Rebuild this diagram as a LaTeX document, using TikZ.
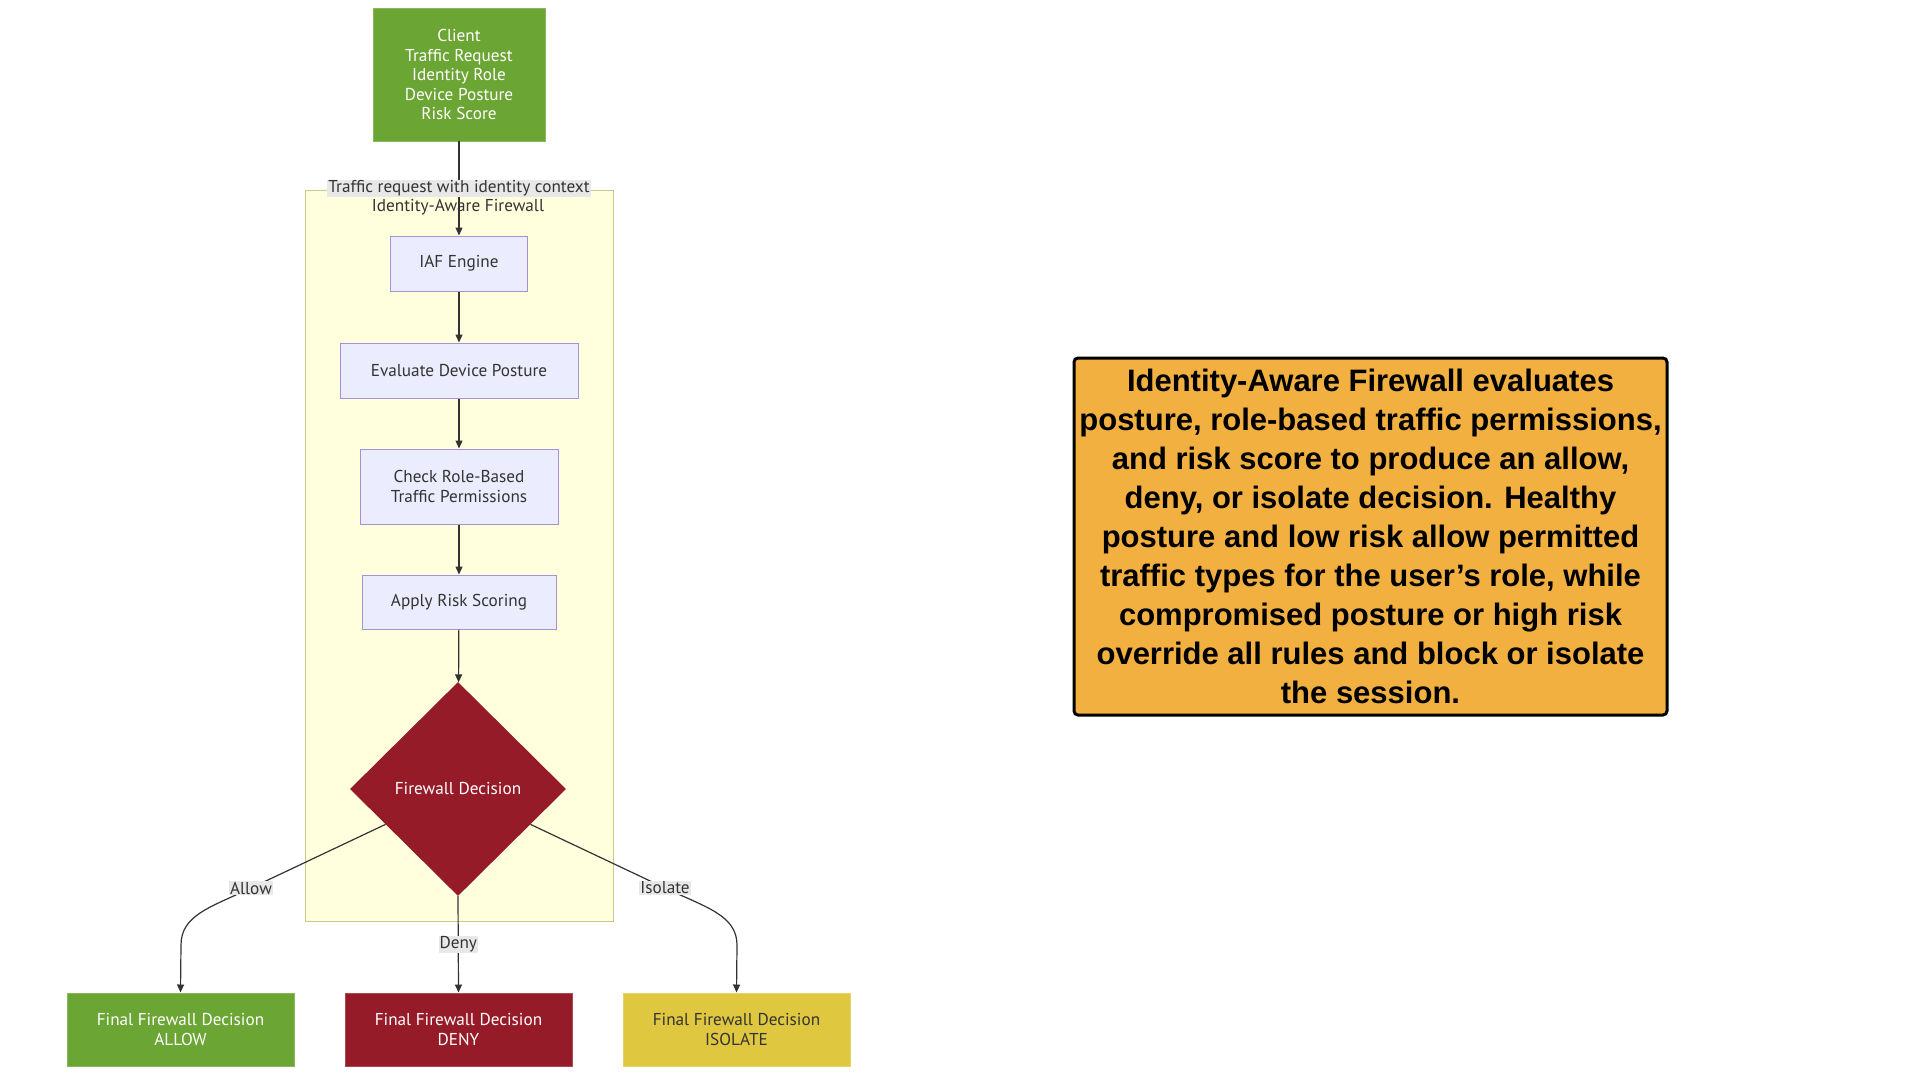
\documentclass[tikz,border=0pt]{standalone}
\usepackage{fontspec}
\setmainfont{PT Sans}
\newfontfamily\notefont{Liberation Sans}
\usetikzlibrary{arrows.meta,shapes.geometric,calc}

\definecolor{clientgreen}{RGB}{107,165,52}
\definecolor{denyred}{RGB}{149,27,40}
\definecolor{isoyellow}{RGB}{223,200,63}
\definecolor{noteorange}{RGB}{241,176,64}
\definecolor{clusterfill}{RGB}{255,255,222}
\definecolor{clusterline}{RGB}{200,200,140}
\definecolor{stepfill}{RGB}{236,236,255}
\definecolor{stepline}{RGB}{165,145,215}
\definecolor{inkgrey}{RGB}{51,51,51}
\definecolor{labelbg}{RGB}{232,232,232}

\begin{document}
\begin{tikzpicture}[x=1pt, y=-1pt,
    every node/.style={font=\fontsize{17.2}{19.5}\selectfont, text=inkgrey},
    stepbox/.style={draw=stepline, fill=stepfill, line width=1pt, inner sep=0pt, align=center},
    finalbox/.style={draw=#1!80!white, fill=#1, line width=1pt, inner sep=0pt, align=center,
        minimum width=227pt, minimum height=73pt},
    decision/.style={shape=diamond, fill=denyred, inner sep=0pt, minimum width=216pt,
        minimum height=214pt, text=white},
    flow/.style={draw=inkgrey, line width=1.2pt, -{Triangle[length=8pt,width=7pt]}},
    elabel/.style={fill=labelbg, inner sep=1pt}]

    \useasboundingbox (0,0) rectangle (1920,1080);

    \draw[draw=clusterline, fill=clusterfill, line width=1pt] (305,190) rectangle (613,921);
    \node (title) at (458,207) {Identity-Aware Firewall};

    \node[fill=clientgreen, draw=clientgreen!80!white, inner sep=0pt, align=center,
        minimum width=172pt, minimum height=133pt, text=white] (client) at (459,74.5)
        {Client\\Traffic Request\\Identity Role\\Device Posture\\Risk Score};

    \node[stepbox, minimum width=137pt, minimum height=55pt] (iaf) at (459,263.5) {IAF Engine};
    \node[stepbox, minimum width=238pt, minimum height=55pt] (posture) at (459,370.5) {Evaluate Device Posture};
    \node[stepbox, minimum width=198pt, minimum height=75pt] (roles) at (459,486.5) {Check Role-Based\\Traffic Permissions};
    \node[stepbox, minimum width=194pt, minimum height=54pt] (risk) at (459,602) {Apply Risk Scoring};
    \node[decision] (dec) at (458,789) {Firewall Decision};

    \node[finalbox=clientgreen, text=white] (allow) at (180.5,1029.5) {Final Firewall Decision\\ALLOW};
    \node[finalbox=denyred, text=white] (deny) at (458.5,1029.5) {Final Firewall Decision\\DENY};
    \node[finalbox=isoyellow] (isolate) at (736.5,1029.5) {Final Firewall Decision\\ISOLATE};

    \node[draw=black, fill=noteorange, line width=3pt, rounded corners=4pt, align=center,
        minimum width=593pt, minimum height=357pt, inner sep=0pt,
        font=\notefont\bfseries\fontsize{31}{39}\selectfont, text=black] (note) at (1370.5,536.5)
        {Identity-Aware Firewall evaluates\\posture, role-based traffic permissions,\\and risk score to produce an allow,\\deny, or isolate decision. Healthy\\posture and low risk allow permitted\\traffic types for the user’s role, while\\compromised posture or high risk\\override all rules and block or isolate\\the session.};

    \coordinate (allowbend) at (251,888);
    \coordinate (isobend) at (665,888);

    \draw[flow] (client) -- node[elabel] {Traffic request with identity context} (iaf);
    \draw[flow] (iaf) -- (posture);
    \draw[flow] (posture) -- (roles);
    \draw[flow] (roles) -- (risk);
    \draw[flow] (risk) -- (dec);
    \draw[flow] ($(dec.west)!0.33!(dec.south)$) -- (allowbend)
        .. controls (211,907) and (181,915) .. (181,945) -- (allow.north);
    \draw[flow] (dec.south) -- node[elabel, pos=0.5] {Deny} (deny.north);
    \draw[flow] ($(dec.east)!0.33!(dec.south)$) -- (isobend)
        .. controls (705,907) and (737,915) .. (737,945) -- (isolate.north);
    \node[elabel] at (allowbend) {Allow};
    \node[elabel] at (isobend) {Isolate};
\end{tikzpicture}
\end{document}
